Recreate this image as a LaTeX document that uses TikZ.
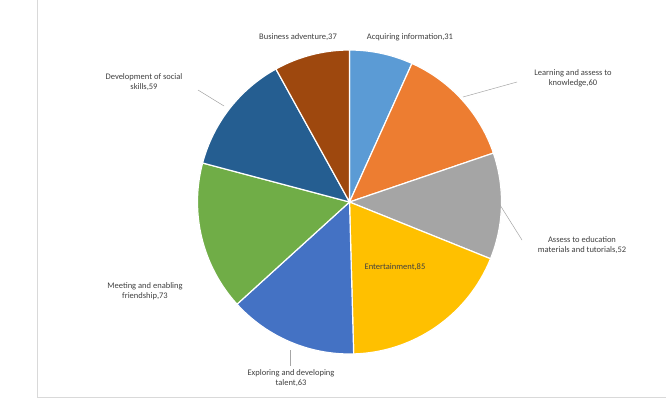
\documentclass[tikz,border=0pt]{standalone}
\usepackage{fontspec}
\setmainfont{Carlito}
\begin{document}
\begin{tikzpicture}[x=1pt,y=-1pt,
  lbl/.style={font=\fontsize{8.5}{10}\selectfont, text=black!75, align=center, inner sep=1pt},
  lead/.style={draw=black!35, line width=0.5pt},
  sl/.style={draw=white, line width=1.2pt}]
\useasboundingbox (0,0) rectangle (666,412);
\fill[white] (0,0) rectangle (666,412);
\draw[black!15] (37,0) -- (37,397) -- (666,397);
\coordinate (c) at (349.5,202);
\def\R{152}
\definecolor{c1}{HTML}{5B9BD5}\definecolor{c2}{HTML}{ED7D31}\definecolor{c3}{HTML}{A5A5A5}
\definecolor{c4}{HTML}{FFC000}\definecolor{c5}{HTML}{4472C4}\definecolor{c6}{HTML}{70AD47}
\definecolor{c7}{HTML}{255E91}\definecolor{c8}{HTML}{9E480E}
\foreach \a/\b/\col in {-90/-65.74/c1, -65.74/-18.78/c2, -18.78/21.92/c3, 21.92/88.43/c4, 88.43/137.74/c5, 137.74/194.87/c6, 194.87/241.04/c7, 241.04/270/c8}{
  \filldraw[sl, fill=\col] (c) -- ++(\a:\R) arc[start angle=\a, end angle=\b, radius=\R] -- cycle;
}
\node[lbl] (l1) at (410,37) {Acquiring information,31};
\node[lbl] (l8) at (298,37) {Business adventure,37};
\node[lbl] (l2) at (573,78) {Learning and assess to\\knowledge,60};
\node[lbl] (l3) at (582,245) {Assess to education\\materials and tutorials,52};
\node[lbl] (l4) at (395,267) {Entertainment,85};
\node[lbl] (l5) at (291,378) {Exploring and developing\\talent,63};
\node[lbl] (l6) at (145,291) {Meeting and enabling\\friendship,73};
\node[lbl] (l7) at (144,82) {Development of social\\skills,59};
\coordinate (p2) at (463,97); \coordinate (q2) at (517,82);
\coordinate (p3) at (500,205); \coordinate (q3) at (522,240);
\coordinate (p5) at (290,350); \coordinate (q5) at (290,366);
\coordinate (p7) at (224,106); \coordinate (q7) at (198,90);
\draw[lead] (p2) -- (q2); \draw[lead] (p3) -- (q3);
\draw[lead] (p5) -- (q5); \draw[lead] (p7) -- (q7);
\end{tikzpicture}
\end{document}
